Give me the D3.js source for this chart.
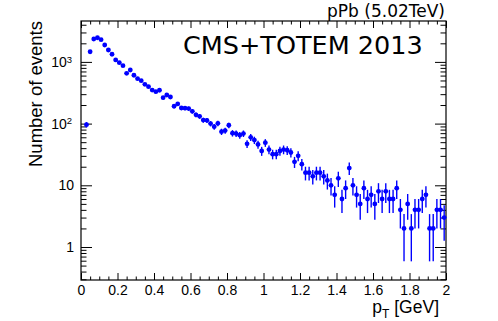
<!DOCTYPE html>
<html>
<head>
<meta charset="utf-8">
<script src="https://cdn.jsdelivr.net/npm/d3@7"></script>
<style>
  body { margin: 0; background: #fff; }
  svg { display: block; }
  .tick text { font-family: "Liberation Sans", Arial, sans-serif; font-size: 14px; fill: #000; }
</style>
</head>
<body>
<script>
// pT spectrum, pPb 5.02 TeV

var w = 498;
var h = 321;

// bin centres [GeV]
var pt = [0.03, 0.05, 0.07, 0.09, 0.11, 0.13, 0.15, 0.17, 0.19, 0.21,
  0.23, 0.25, 0.27, 0.29, 0.31, 0.33, 0.35, 0.37, 0.39, 0.41,
  0.43, 0.45, 0.47, 0.49, 0.51, 0.53, 0.55, 0.57, 0.59, 0.61,
  0.63, 0.65, 0.67, 0.69, 0.71, 0.73, 0.75, 0.77, 0.79, 0.81,
  0.83, 0.85, 0.87, 0.89, 0.91, 0.93, 0.95, 0.97, 0.99, 1.01,
  1.03, 1.05, 1.07, 1.09, 1.11, 1.13, 1.15, 1.17, 1.19, 1.21,
  1.23, 1.25, 1.27, 1.29, 1.31, 1.33, 1.35, 1.37, 1.39, 1.41,
  1.43, 1.45, 1.47, 1.49, 1.51, 1.53, 1.55, 1.57, 1.59, 1.61,
  1.63, 1.65, 1.67, 1.69, 1.71, 1.73, 1.75, 1.77, 1.79, 1.81,
  1.83, 1.85, 1.87, 1.89, 1.91, 1.93, 1.95, 1.97, 1.99];

// events per bin
var counts = [96, 1460, 2350, 2460, 2290, 1880, 1560, 1330, 1075, 970,
  867, 653, 739, 607, 535, 496, 433, 396, 350, 329,
  347, 263, 291, 270, 191, 208, 179, 178, 175, 158,
  139, 131, 114, 113, 100, 89, 101, 74, 77, 94,
  70, 69, 65, 69, 47, 60, 54, 46, 36, 49,
  38, 32, 32, 36, 38, 37, 34, 24, 30, 22,
  16, 16, 14, 16, 16, 14, 12, 10, 7, 13,
  6, 9, 19, 10, 7, 5, 9, 6, 7, 5,
  8, 6, 8, 6, 6, 9, 4, 2, 5, 2,
  4, 4, 6, 7, 2, 2, 4, 4, 3];

var binHalf = 0.01;

var xTicks = [0, 0.2, 0.4, 0.6, 0.8, 1, 1.2, 1.4, 1.6, 1.8, 2];
var xTickLabels = ["0", "0.2", "0.4", "0.6", "0.8", "1", "1.2", "1.4", "1.6", "1.8", "2"];
var yTicks = [1, 10, 100, 1000];
var yTickBase = ["1", "10", "10", "10"];
var yTickExp = ["", "", "2", "3"];

// frame edges (top is a reserved window name, so prefix them)
var fLeft = 81, fRight = 446, fTop = 21, fBottom = 280;

var x = d3.scaleLinear().domain([0, 2]).range([fLeft, fRight]);
var y = d3.scaleLog().domain([0.292, 4600]).range([fBottom, fTop]);

var svg = d3.select("body")
  .append("svg")
  .attr("width", w)
  .attr("height", h);

svg.append("rect")
  .attr("width", w)
  .attr("height", h)
  .attr("fill", "#fff");

// minor ticks
var xMinor = d3.range(0, 2.0001, 0.05).filter(function(v) {
  return Math.abs(v / 0.2 - Math.round(v / 0.2)) > 1e-6;
});
var yMinor = [];
[0.1, 1, 10, 100, 1000].forEach(function(dec) {
  for (var k = 2; k <= 9; k++) {
    var v = dec * k;
    if (v > y.domain()[0] && v < y.domain()[1]) yMinor.push(v);
  }
});

var drawAxis = function(axis, tr) {
  var g = svg.append("g")
    .attr("transform", tr)
    .call(axis);
  g.select(".domain").remove();
  g.selectAll("line").attr("stroke", "#000").attr("stroke-width", 1);
  return g;
};

// bottom
var gx = drawAxis(d3.axisBottom(x).tickValues(xTicks)
  .tickFormat(function(d, i) { return xTickLabels[i]; })
  .tickSize(-7), "translate(0," + fBottom + ")");
gx.selectAll("text").attr("y", 5).attr("dy", "0.71em");
drawAxis(d3.axisBottom(x).tickValues(xMinor).tickFormat("").tickSize(-3.5),
  "translate(0," + fBottom + ")");
// top
drawAxis(d3.axisTop(x).tickValues(xTicks).tickFormat("").tickSize(-7),
  "translate(0," + fTop + ")");
drawAxis(d3.axisTop(x).tickValues(xMinor).tickFormat("").tickSize(-3.5),
  "translate(0," + fTop + ")");

// left
drawAxis(d3.axisLeft(y).tickValues(yTicks).tickFormat("").tickSize(-11),
  "translate(" + fLeft + ",0)");
drawAxis(d3.axisLeft(y).tickValues(yMinor).tickFormat("").tickSize(-5.5),
  "translate(" + fLeft + ",0)");
// right
drawAxis(d3.axisRight(y).tickValues(yTicks).tickFormat("").tickSize(-11),
  "translate(" + fRight + ",0)");
drawAxis(d3.axisRight(y).tickValues(yMinor).tickFormat("").tickSize(-5.5),
  "translate(" + fRight + ",0)");

// y tick labels with exponents
var ylab = svg.append("g")
  .selectAll("text")
  .data(yTicks)
  .enter()
  .append("text")
  .attr("x", function(d, i) { return yTickExp[i] ? 72 : 74; })
  .attr("y", function(d) { return y(d); })
  .attr("dy", "0.36em")
  .attr("text-anchor", "end")
  .style("font-family", "Liberation Sans, Arial, sans-serif")
  .style("font-size", "14px");
ylab.append("tspan")
  .text(function(d, i) { return yTickBase[i]; });
ylab.append("tspan")
  .attr("dy", "-0.45em")
  .style("font-size", "9.5px")
  .text(function(d, i) { return yTickExp[i]; });

// frame
svg.append("rect")
  .attr("x", fLeft)
  .attr("y", fTop)
  .attr("width", fRight - fLeft)
  .attr("height", fBottom - fTop)
  .attr("fill", "none")
  .attr("stroke", "#000")
  .attr("stroke-width", 1.2);

// points
var pts = pt.map(function(p, i) {
  return { x: p, n: counts[i] };
});

var marks = svg.append("g").attr("class", "data");

marks.selectAll("line.ey")
  .data(pts)
  .enter()
  .append("line")
  .attr("class", "ey")
  .attr("x1", function(d) { return x(d.x); })
  .attr("x2", function(d) { return x(d.x); })
  .attr("y1", function(d) { return y(d.n + Math.sqrt(d.n)); })
  .attr("y2", function(d) {
    return y(Math.max(d.n - Math.sqrt(d.n), y.domain()[0]));
  })
  .attr("stroke", "#0000ff")
  .attr("stroke-width", 1.4);

marks.selectAll("line.ex")
  .data(pts)
  .enter()
  .append("line")
  .attr("class", "ex")
  .attr("x1", function(d) { return x(d.x - binHalf); })
  .attr("x2", function(d) { return x(d.x + binHalf); })
  .attr("y1", function(d) { return y(d.n); })
  .attr("y2", function(d) { return y(d.n); })
  .attr("stroke", "#0000ff")
  .attr("stroke-width", 1.4);

marks.selectAll("circle")
  .data(pts)
  .enter()
  .append("circle")
  .attr("cx", function(d) { return x(d.x); })
  .attr("cy", function(d) { return y(d.n); })
  .attr("r", 2.4)
  .attr("fill", "#0000ff");

// titles
svg.append("text")
  .attr("x", 445)
  .attr("y", 17)
  .attr("text-anchor", "end")
  .style("font-family", "DejaVu Sans, sans-serif")
  .style("font-size", "17px")
  .text("pPb (5.02TeV)");

svg.append("text")
  .attr("x", 183)
  .attr("y", 54)
  .style("font-family", "DejaVu Sans, sans-serif")
  .style("font-size", "25.5px")
  .text("CMS+TOTEM 2013");

svg.append("text")
  .attr("transform", "translate(42," + fTop + ") rotate(-90)")
  .attr("text-anchor", "end")
  .style("font-family", "Liberation Sans, Arial, sans-serif")
  .style("font-size", "18.5px")
  .text("Number of events");

var xt = svg.append("text")
  .attr("x", 439)
  .attr("y", 313)
  .attr("text-anchor", "end")
  .style("font-family", "Liberation Sans, Arial, sans-serif")
  .style("font-size", "17.5px");
xt.append("tspan").text("p");
xt.append("tspan").attr("dy", 5).style("font-size", "12px").text("T");
xt.append("tspan").attr("dy", -5).text(" [GeV]");
</script>
</body>
</html>
